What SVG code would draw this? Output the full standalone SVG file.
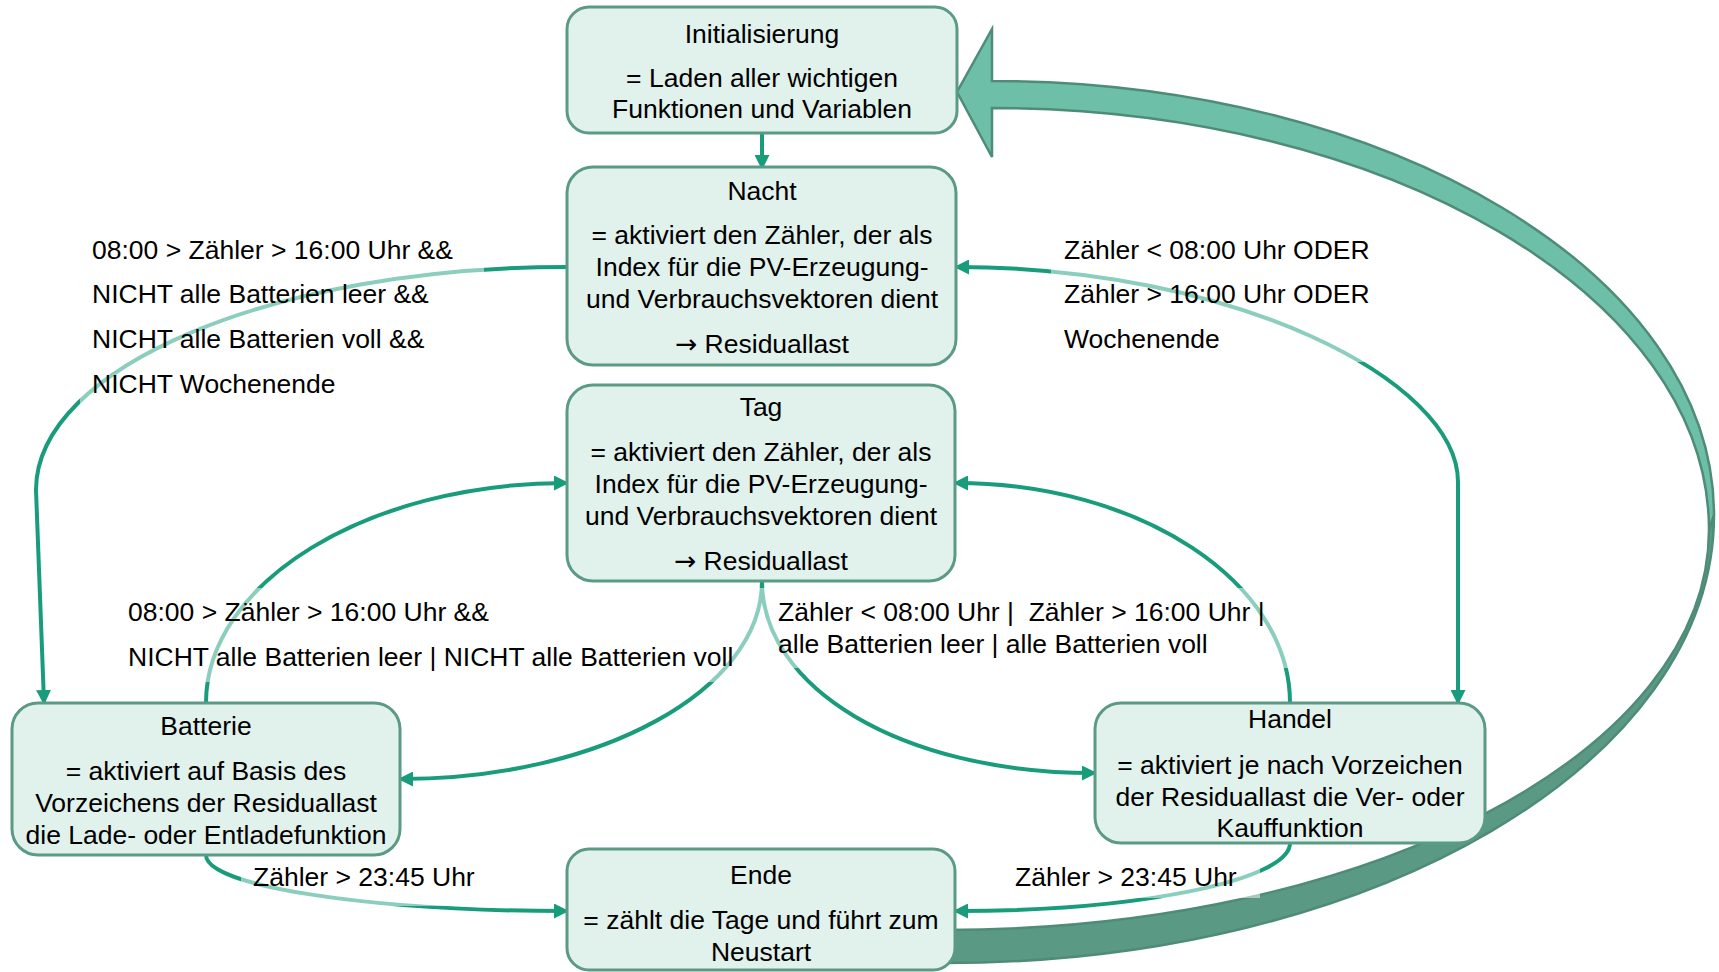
<svg xmlns="http://www.w3.org/2000/svg" width="1719" height="972" viewBox="0 0 1719 972">
<style>
  .node rect { fill: #e1f1ec; stroke: #5b9a85; stroke-width: 3; }
  .t { font-family: "Liberation Sans", Arial, sans-serif; font-size: 26.5px; fill: #000; }
  .ar { font-family: "DejaVu Sans", sans-serif; }
  .c { text-anchor: middle; }
  .con { fill: none; stroke: #189c7b; stroke-width: 4; }
  .lbg { fill: #ffffff; fill-opacity: 0.5; }
  .big1 { fill: #6dbfa7; stroke: #4e8c78; stroke-width: 2.5; }
  .big2 { fill: #5a9a84; stroke: #4e8c78; stroke-width: 2.5; }
</style>
<defs>
  <marker id="ah" viewBox="0 0 15 15" refX="12" refY="7.5" markerWidth="15" markerHeight="15" markerUnits="userSpaceOnUse" orient="auto-start-reverse">
    <path d="M0,0 L15,7.5 L0,15 Z" fill="#189c7b"/>
  </marker>
</defs>

<g id="connectors">
  <g id="big-arrow">
    <path class="big2" d="M1714,515 C1714,762 1374,963 945,963 L945,930 C1371,930 1709,751 1709,530 Z"/>
    <path class="big1" d="M992,81 C1391,81 1714,275 1714,515 L1709,530 C1709,297 1388,108 992,108 L992,157 L957,92 L992,29 Z"/>
  </g>
  <path class="con" d="M762,133 L762,167" marker-end="url(#ah)"/>
  <path class="con" d="M567,267 C274,267 36,367 36,490 L44,702" marker-end="url(#ah)"/>
  <path class="con" d="M957,267 C1233,267 1458,380 1458,482 L1458,702" marker-start="url(#ah)" marker-end="url(#ah)"/>
  <path class="con" d="M206,703 C206,582 368,483 566,483" marker-end="url(#ah)"/>
  <path class="con" d="M762,581 C762,690 600,779 401,779" marker-end="url(#ah)"/>
  <path class="con" d="M762,581 C762,687 900,773 1094,773" marker-end="url(#ah)"/>
  <path class="con" d="M1290,703 C1290,582 1140,483 956,483" marker-end="url(#ah)"/>
  <path class="con" d="M206,855 C206,886 368,911 566,911" marker-end="url(#ah)"/>
  <path class="con" d="M1290,843 C1290,880 1140,911 956,911" marker-end="url(#ah)"/>
  <g id="label-backgrounds">
    <rect class="lbg" x="80" y="230" width="404" height="177"/>
    <rect class="lbg" x="1051" y="228" width="434" height="134"/>
    <rect class="lbg" x="118" y="588" width="644" height="94"/>
    <rect class="lbg" x="762" y="588" width="528" height="80"/>
    <rect class="lbg" x="241" y="862" width="276" height="44"/>
    <rect class="lbg" x="1003" y="860" width="257" height="38"/>
  </g>
</g>

<g id="node-init" class="node">
  <rect x="567" y="7" width="390" height="126" rx="22"/>
  <text class="t c" x="762" y="43">Initialisierung</text>
  <text class="t c" x="762" y="87">= Laden aller wichtigen</text>
  <text class="t c" x="762" y="118">Funktionen und Variablen</text>
</g>

<g id="node-nacht" class="node">
  <rect x="567" y="167" width="389" height="198" rx="26"/>
  <text class="t c" x="762" y="200">Nacht</text>
  <text class="t c" x="762" y="244">= aktiviert den Zähler, der als</text>
  <text class="t c" x="762" y="276">Index für die PV-Erzeugung-</text>
  <text class="t c" x="762" y="308">und Verbrauchsvektoren dient</text>
  <text class="t c" x="762" y="353"><tspan class="ar">→</tspan> Residuallast</text>
</g>

<g id="node-tag" class="node">
  <rect x="567" y="385" width="388" height="196" rx="26"/>
  <text class="t c" x="761" y="416">Tag</text>
  <text class="t c" x="761" y="461">= aktiviert den Zähler, der als</text>
  <text class="t c" x="761" y="493">Index für die PV-Erzeugung-</text>
  <text class="t c" x="761" y="525">und Verbrauchsvektoren dient</text>
  <text class="t c" x="761" y="570"><tspan class="ar">→</tspan> Residuallast</text>
</g>

<g id="node-batterie" class="node">
  <rect x="12" y="703" width="388" height="152" rx="26"/>
  <text class="t c" x="206" y="735">Batterie</text>
  <text class="t c" x="206" y="780">= aktiviert auf Basis des</text>
  <text class="t c" x="206" y="812">Vorzeichens der Residuallast</text>
  <text class="t c" x="206" y="844">die Lade- oder Entladefunktion</text>
</g>

<g id="node-handel" class="node">
  <rect x="1095" y="703" width="390" height="140" rx="26"/>
  <text class="t c" x="1290" y="728">Handel</text>
  <text class="t c" x="1290" y="774">= aktiviert je nach Vorzeichen</text>
  <text class="t c" x="1290" y="806">der Residuallast die Ver- oder</text>
  <text class="t c" x="1290" y="837">Kauffunktion</text>
</g>

<g id="node-ende" class="node">
  <rect x="567" y="849" width="388" height="121" rx="22"/>
  <text class="t c" x="761" y="884">Ende</text>
  <text class="t c" x="761" y="929">= zählt die Tage und führt zum</text>
  <text class="t c" x="761" y="961">Neustart</text>
</g>

<g id="labels">
  <text class="t" x="92" y="259">08:00 &gt; Zähler &gt; 16:00 Uhr &amp;&amp;</text>
  <text class="t" x="92" y="303">NICHT alle Batterien leer &amp;&amp;</text>
  <text class="t" x="92" y="348">NICHT alle Batterien voll &amp;&amp;</text>
  <text class="t" x="92" y="393">NICHT Wochenende</text>
  <text class="t" x="1064" y="259">Zähler &lt; 08:00 Uhr ODER</text>
  <text class="t" x="1064" y="303">Zähler &gt; 16:00 Uhr ODER</text>
  <text class="t" x="1064" y="348">Wochenende</text>
  <text class="t" x="128" y="621">08:00 &gt; Zähler &gt; 16:00 Uhr &amp;&amp;</text>
  <text class="t" x="128" y="666">NICHT alle Batterien leer | NICHT alle Batterien voll</text>
  <text class="t" x="778" y="621" xml:space="preserve">Zähler &lt; 08:00 Uhr |  Zähler &gt; 16:00 Uhr |</text>
  <text class="t" x="778" y="653">alle Batterien leer | alle Batterien voll</text>
  <text class="t" x="253" y="886">Zähler &gt; 23:45 Uhr</text>
  <text class="t" x="1015" y="886">Zähler &gt; 23:45 Uhr</text>
</g>
</svg>
